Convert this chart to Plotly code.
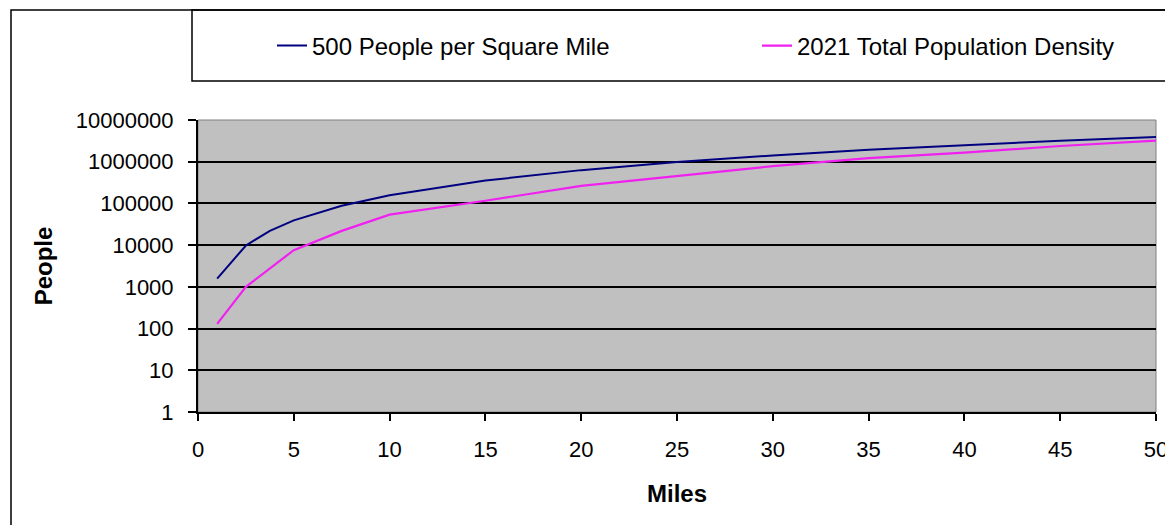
import plotly.graph_objects as go

# ---- data ----
miles_500 = [1, 2.5, 3.75, 5, 7.5, 10, 15, 20, 25, 30, 35, 40, 45, 50]
people_500_per_sq_mile = [1571, 9817, 22089, 39270, 88357, 157080, 353429, 628319,
                          981748, 1413717, 1924226, 2513274, 3180863, 3926991]
miles_2021 = [1, 2.5, 5, 7.5, 10, 15, 20, 25, 30, 35, 40, 45, 50]
people_2021_density = [130, 1000, 7600, 22000, 54000, 116000, 263000,
                       460000, 783000, 1220000, 1650000, 2380000, 3200000]
series_names = ["500 People per Square Mile", "2021 Total Population Density"]
y_tick_values = [1, 10, 100, 1000, 10000, 100000, 1000000, 10000000]
y_tick_labels = ["1", "10", "100", "1000", "10000", "100000", "1000000", "10000000"]
x_tick_values = [0, 5, 10, 15, 20, 25, 30, 35, 40, 45, 50]
x_title = "Miles"
y_title = "People"

# page is rendered with an 8px body margin
OFF = 8
W, H = 1173, 525
L, R, T, B = 190, 25, 112, 121
PW, PH = W - L - R, H - T - B


def px_x(p):  # page pixel -> paper x
    return (p - OFF - L) / PW


def px_y(p):  # page pixel -> paper y
    return (H - B - (p - OFF)) / PH


FONT = "Liberation Sans, Arial, sans-serif"

fig = go.Figure()
fig.add_trace(go.Scatter(x=miles_500, y=people_500_per_sq_mile, mode="lines",
                         name=series_names[0], legendwidth=440,
                         line=dict(color="#000080", width=2)))
fig.add_trace(go.Scatter(x=miles_2021, y=people_2021_density, mode="lines",
                         name=series_names[1], legendwidth=330,
                         line=dict(color="#F020F0", width=2.2)))

shapes = [
    # plot-area gray border (top/right)
    dict(type="rect", xref="paper", yref="paper", x0=0, y0=0, x1=1, y1=1,
         line=dict(color="#808080", width=1), layer="below"),
    # legend box
    dict(type="rect", xref="paper", yref="paper",
         x0=px_x(192), x1=px_x(1195), y0=px_y(81), y1=px_y(10),
         line=dict(color="black", width=1.5)),
    # outer chart border
    dict(type="rect", xref="paper", yref="paper",
         x0=px_x(11), x1=px_x(1195), y0=px_y(560), y1=px_y(10),
         line=dict(color="black", width=1.5)),
]

fig.update_layout(
    width=W, height=H,
    margin=dict(l=L, r=R, t=T, b=B, autoexpand=False),
    paper_bgcolor="white",
    plot_bgcolor="#C0C0C0",
    font=dict(family=FONT, color="black", size=22),
    shapes=shapes,
    showlegend=True,
    legend=dict(orientation="h", x=px_x(272), xanchor="left",
                y=px_y(46), yanchor="middle",
                bgcolor="rgba(0,0,0,0)",
                font=dict(family=FONT, size=24, color="black"),
                itemclick=False),
)

fig.update_xaxes(range=[0, 50], tickvals=x_tick_values,
                 ticks="outside", ticklen=7, tickwidth=1.5, tickcolor="black",
                 showline=True, linecolor="black", linewidth=2,
                 showgrid=False, zeroline=False,
                 tickfont=dict(family=FONT, size=22),
                 ticklabelstandoff=10,
                 title=dict(text="<b>%s</b>" % x_title,
                            font=dict(family=FONT, size=24), standoff=24))
fig.update_yaxes(type="log", range=[0, 7], tickvals=y_tick_values,
                 ticktext=y_tick_labels,
                 ticks="outside", ticklen=8, tickwidth=1.5, tickcolor="black",
                 showline=True, linecolor="black", linewidth=2,
                 showgrid=True, gridcolor="black", gridwidth=1.6,
                 zeroline=False,
                 tickfont=dict(family=FONT, size=22),
                 ticklabelstandoff=10,
                 title=dict(text="<b>%s</b>" % y_title,
                            font=dict(family=FONT, size=24), standoff=16))

fig.write_html("out.html")
